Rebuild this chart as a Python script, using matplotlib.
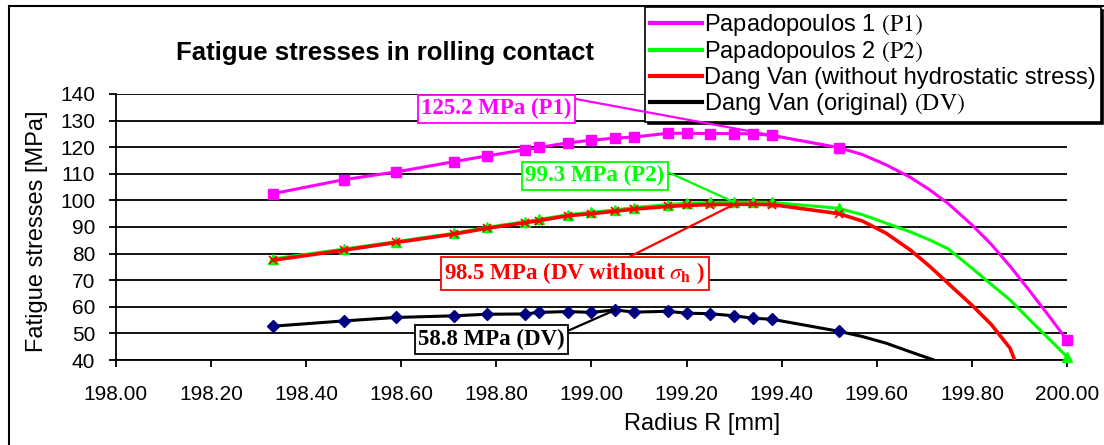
import matplotlib
matplotlib.use("Agg")
import matplotlib.pyplot as plt
from matplotlib.lines import Line2D

plt.rcParams['font.family'] = ['Liberation Sans', 'DejaVu Sans']
plt.rcParams['mathtext.fontset'] = 'stix'

# radius of the computed points (markers)
radius = [198.33, 198.48, 198.59, 198.71, 198.78, 198.86, 198.89, 198.95, 199.00,
          199.05, 199.09, 199.16, 199.20, 199.25, 199.30, 199.34, 199.38, 199.52]

p1 = [102.5, 107.8, 110.7, 114.5, 116.7, 119.0, 119.9, 121.6, 122.6,
      123.4, 123.8, 125.2, 125.2, 125.1, 125.1, 125.0, 124.4, 119.8]
p2 = [78.0, 81.7, 84.5, 87.6, 89.8, 92.0, 92.8, 94.6, 95.5,
      96.4, 97.3, 98.4, 98.9, 99.2, 99.3, 99.3, 99.2, 97.0]
dv_noh = [77.5, 81.3, 84.2, 87.3, 89.5, 91.6, 92.4, 94.2, 95.0,
          95.9, 96.7, 97.7, 98.1, 98.4, 98.5, 98.5, 98.4, 95.0]
dv = [52.7, 54.7, 56.0, 56.6, 57.2, 57.3, 57.9, 58.2, 57.9,
      58.8, 58.0, 58.3, 57.6, 57.4, 56.6, 55.7, 55.3, 50.8]

# smooth tails towards the surface
p1_tail_r = [199.57, 199.62, 199.67, 199.71, 199.75, 199.80, 199.84, 199.88, 199.92, 199.96, 200.00]
p1_tail = [117.2, 113.3, 108.7, 104.1, 98.8, 90.8, 83.6, 75.3, 66.3, 57.0, 47.5]
p2_tail_r = [199.57, 199.62, 199.67, 199.71, 199.75, 199.80, 199.84, 199.88, 199.92, 199.96, 200.00]
p2_tail = [94.6, 91.4, 88.2, 85.2, 81.8, 74.5, 68.5, 62.6, 55.4, 48.3, 41.2]
dvh_tail_r = [199.57, 199.62, 199.67, 199.71, 199.75, 199.80, 199.84, 199.88, 199.89]
dvh_tail = [92.2, 87.6, 81.4, 75.4, 68.8, 60.6, 53.5, 44.5, 40.0]
dv_tail_r = [199.57, 199.62, 199.67, 199.72]
dv_tail = [48.8, 46.3, 43.1, 40.0]

labels = [r'Papadopoulos 1 $\mathrm{(P1)}$', r'Papadopoulos 2 $\mathrm{(P2)}$',
          'Dang Van (without hydrostatic stress)', r'Dang Van (original) $\mathrm{(DV)}$']
colors = ['#FF00FF', '#00FF00', '#FF0000', '#000000']

fig = plt.figure(figsize=(11.04, 4.45), dpi=100)
ax = fig.add_axes([0.105, 0.191, 0.8615, 0.598])

lw = 2.2
ax.plot(radius + p1_tail_r, p1 + p1_tail, color=colors[0], lw=lw, zorder=3)
ax.plot(radius + [200.00], p1 + [p1_tail[-1]], ls='none', marker='s', ms=7,
        color=colors[0], zorder=4, clip_on=False)

ax.plot(radius + p2_tail_r, p2 + p2_tail, color=colors[1], lw=lw, zorder=3)
ax.plot(radius + [200.00], p2 + [p2_tail[-1]], ls='none', marker='^', ms=7,
        color=colors[1], zorder=4, clip_on=False)

ax.plot(radius + dvh_tail_r, dv_noh + dvh_tail, color=colors[2], lw=lw + 0.4, zorder=5)
ax.plot(radius, dv_noh, ls='none', marker='x', ms=6, mew=1.2, color=colors[2], zorder=5)

ax.plot(radius + dv_tail_r, dv + dv_tail, color=colors[3], lw=lw, zorder=3)
ax.plot(radius, dv, ls='none', marker='D', ms=6, color='#000080', zorder=4)

ax.set_xlim(198, 200)
ax.set_ylim(40, 140)
ax.set_xticks([198 + 0.2 * i for i in range(11)])
ax.set_xticklabels(['%.2f' % (198 + 0.2 * i) for i in range(11)])
ax.set_yticks(range(40, 141, 10))
ax.grid(axis='y', color='black', lw=1.3)
ax.set_axisbelow(True)
for s in ['top', 'right']:
    ax.spines[s].set_visible(False)
for s in ['left', 'bottom']:
    ax.spines[s].set_linewidth(1.3)
ax.tick_params(direction='out', length=5, width=1.3, labelsize=15, colors='black')
ax.tick_params(axis='x', pad=13)
ax.tick_params(axis='y', pad=10)

fig.text(385 / 1104, 1 - 60 / 445, 'Fatigue stresses in rolling contact',
         ha='center', va='baseline', fontsize=18.5, fontweight='bold')
fig.text(702 / 1104, 1 - 430 / 445, 'Radius R [mm]', ha='center', va='baseline', fontsize=17)
fig.text(37 / 1104, 1 - 231 / 445, 'Fatigue stresses [MPa]', ha='center', va='center',
         rotation=90, fontsize=17)

# annotation boxes
serif = ['Liberation Serif', 'DejaVu Serif']
def note(txt, xy, xytext, col, relpos):
    ax.annotate(txt, xy=xy, xytext=xytext, textcoords='data', ha='center', va='center',
                fontsize=16.5, fontweight='bold', family=serif, color=col, zorder=8,
                bbox=dict(boxstyle='square,pad=0.15', fc='white', ec=col, lw=1.3),
                arrowprops=dict(arrowstyle='-', color=col, lw=1.6, relpos=relpos,
                                shrinkA=0, shrinkB=0),
                annotation_clip=False)

note('125.2 MPa (P1)', (radius[-1], p1[-1]), (198.80, 134.4), colors[0], (1, 1))
note('99.3 MPa (P2)', (radius[14], p2[14]), (199.007, 109.2), colors[1], (1, 0.75))
note(r'98.5 MPa (DV without $\sigma_\mathbf{h}$ )', (radius[14], dv_noh[14]), (198.965, 72.5),
     colors[2], (0.68, 1))
note('58.8 MPa (DV)', (radius[9], dv[9]), (198.79, 47.7), 'black', (1, 0.85))

handles = [Line2D([], [], color=c, lw=3) for c in colors]
leg = ax.legend(handles, labels, loc='upper right', bbox_to_anchor=(0.997, 0.984),
                bbox_transform=fig.transFigure, fontsize=17, frameon=True,
                fancybox=False, edgecolor='black', borderpad=0.2, labelspacing=0.07,
                handlelength=2.2, handletextpad=0.1, borderaxespad=0,
                shadow={'color': 'black', 'alpha': 1})
leg.get_frame().set_linewidth(1.2)
leg.set_zorder(7)

# outer chart border
fig.add_artist(plt.Rectangle((9 / 1104, -0.05), 1.1, 1 - 6 / 445 + 0.05,
                             transform=fig.transFigure, fill=False, ec='black', lw=1.5))

fig.savefig('out.png', dpi=100)
